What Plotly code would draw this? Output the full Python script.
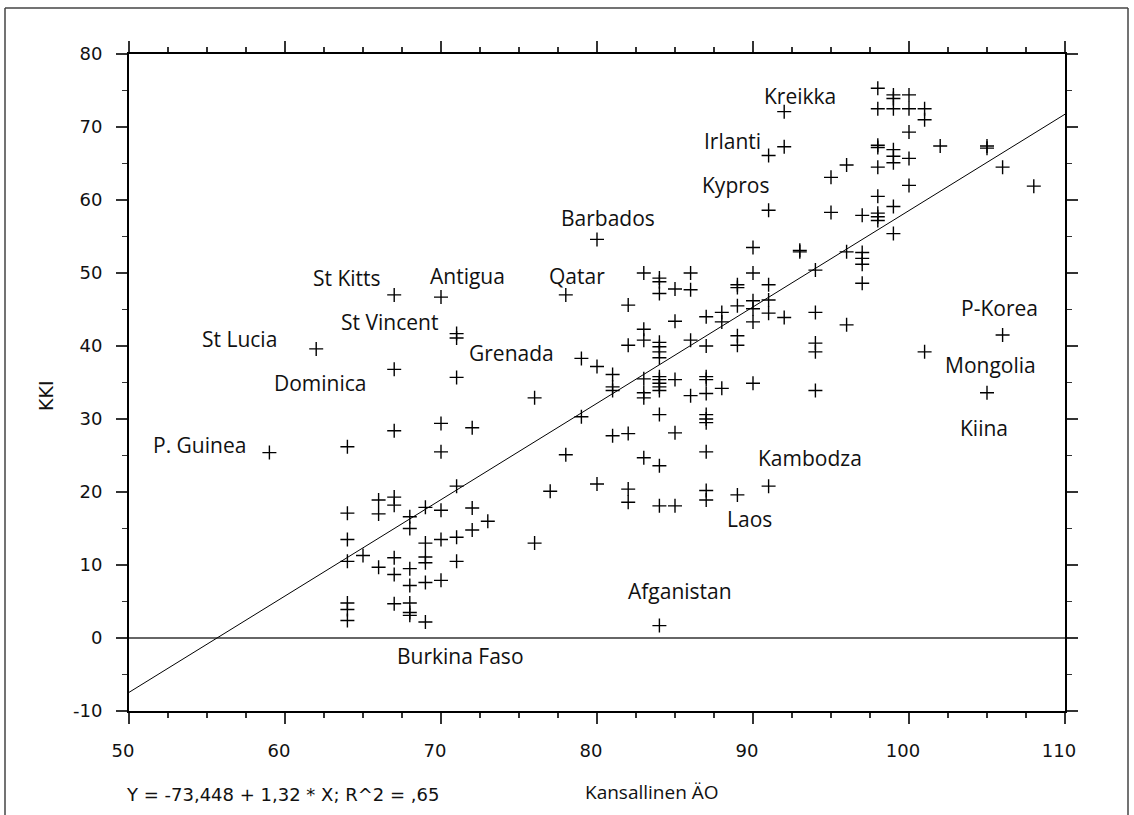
import plotly.graph_objects as go

# ---- data ----
iq_columns = [59, 62, 64, 65, 66, 67, 68, 69, 70, 71, 72, 73, 76, 77, 78, 79, 80,
              81, 82, 83, 84, 85, 86, 87, 88, 89, 90, 91, 92, 93, 94, 95, 96, 97,
              98, 99, 100, 101, 102, 105, 106, 108]
kki_by_column = [
    [25.4],
    [39.6],
    [26.2, 17.1, 13.5, 10.5, 4.8, 3.9, 2.4],
    [11.3],
    [18.9, 17.0, 9.7],
    [47.0, 36.8, 28.4, 19.3, 18.2, 11.0, 8.7, 4.7],
    [16.6, 15.0, 9.5, 7.2, 4.8, 3.5, 3.1],
    [17.9, 13.0, 11.1, 10.3, 7.6, 2.2],
    [46.7, 29.4, 25.5, 17.5, 13.5, 7.9],
    [41.7, 41.1, 35.7, 20.8, 13.8, 10.5],
    [28.8, 17.8, 14.8],
    [16.0],
    [32.9, 13.0],
    [20.1],
    [47.0, 25.1],
    [38.3, 30.3],
    [54.6, 37.2, 21.1],
    [36.1, 34.4, 33.9, 27.7],
    [45.6, 40.1, 28.0, 20.4, 18.6],
    [50.0, 42.3, 40.8, 35.5, 33.6, 32.9, 24.7],
    [49.3, 48.8, 47.2, 40.5, 39.9, 39.2, 38.4, 35.8, 35.4, 34.9, 34.4, 33.9, 30.6, 23.6, 18.1, 1.7],
    [47.8, 43.4, 35.4, 28.1, 18.1],
    [50.0, 47.7, 40.8, 33.2],
    [44.0, 40.0, 35.8, 35.4, 33.5, 30.6, 30.0, 29.5, 25.5, 20.2, 18.9],
    [44.6, 43.3, 34.2],
    [48.4, 48.0, 45.5, 41.4, 40.1, 19.6],
    [53.5, 50.0, 46.2, 45.1, 43.3, 34.9],
    [66.1, 58.6, 48.4, 46.3, 44.5, 20.8],
    [72.1, 67.3, 43.9],
    [53.1, 52.9],
    [50.4, 44.6, 40.4, 39.2, 33.9],
    [63.1, 58.3],
    [64.8, 52.9, 42.9],
    [57.9, 52.8, 52.0, 51.2, 48.6],
    [75.3, 72.5, 67.5, 67.2, 64.5, 60.5, 58.2, 57.7, 57.2],
    [74.4, 73.9, 72.5, 66.9, 66.0, 65.1, 59.1, 55.4],
    [74.4, 72.5, 69.3, 65.7, 62.0],
    [72.5, 71.0, 39.2],
    [67.4],
    [67.4, 67.1, 33.6],
    [64.5, 41.5],
    [61.9],
]

label_names = ["Kreikka", "Irlanti", "Kypros", "Barbados", "St Kitts", "Antigua",
               "Qatar", "St Vincent", "St Lucia", "Grenada", "Dominica", "P. Guinea",
               "P-Korea", "Mongolia", "Kiina", "Kambodza", "Laos", "Afganistan",
               "Burkina Faso"]
label_x = [93.0, 88.7, 88.9, 80.7, 64.0, 71.7, 78.7, 66.7, 57.1, 74.5, 62.3, 54.5,
           105.8, 105.2, 104.8, 93.65, 89.8, 85.35, 71.25]
label_y = [74.2, 68.1, 62.0, 57.5, 49.3, 49.6, 49.6, 43.3, 41.0, 39.1, 35.0, 26.5,
           45.2, 37.4, 28.8, 24.7, 16.3, 6.4, -2.4]

intercept = -73.448
slope = 1.32
line_x = [50, 110]
equation_text = "Y = -73,448 + 1,32 * X; R^2 = ,65"
x_title = "Kansallinen ÄO"
y_title = "KKI"

x_ticks = [50, 60, 70, 80, 90, 100, 110]
x_tick_text = ["50", "60", "70", "80", "90", "100", "110"]
y_ticks = [-10, 0, 10, 20, 30, 40, 50, 60, 70, 80]
y_tick_text = ["-10", "0", "10", "20", "30", "40", "50", "60", "70", "80"]

# ---- build ----
xs, ys = [], []
for xc, col in zip(iq_columns, kki_by_column):
    for v in col:
        xs.append(xc)
        ys.append(v)

LABEL_FONT = "'Open Sans', Lato, sans-serif"
TICK_FONT = "'DejaVu Sans', Verdana, sans-serif"

fig = go.Figure()
fig.add_trace(go.Scatter(
    x=line_x, y=[intercept + slope * v for v in line_x],
    mode="lines", line=dict(color="black", width=1), hoverinfo="skip",
    showlegend=False))
fig.add_trace(go.Scatter(
    x=xs, y=ys, mode="markers",
    marker=dict(symbol="cross-thin", size=10, line=dict(color="black", width=1.4)),
    showlegend=False))

for name, lx, ly in zip(label_names, label_x, label_y):
    fig.add_annotation(x=lx, y=ly, text=name, showarrow=False,
                       font=dict(family=LABEL_FONT, size=21, color="#111"))

L, T, PW, PH = 129, 54, 936, 657

fig.add_annotation(xref="paper", yref="paper", x=(46 - L) / PW, y=(T + PH - 396) / PH,
                   xanchor="center", yanchor="middle",
                   text=y_title, textangle=-90, showarrow=False,
                   font=dict(family=TICK_FONT, size=19, color="#111"))
fig.add_annotation(xref="paper", yref="paper", x=(652 - L) / PW, y=(T + PH - 792) / PH,
                   xanchor="center", yanchor="middle", text=x_title, showarrow=False,
                   font=dict(family=LABEL_FONT, size=19, color="#111"))
fig.add_annotation(xref="paper", yref="paper", x=(124 - L) / PW, y=(T + PH - 794) / PH,
                   xanchor="left", yanchor="middle", text=equation_text, showarrow=False,
                   font=dict(family=TICK_FONT, size=18, color="#111"))

# outer frame (open at the bottom)
for x0, y0, x1, y1 in [(5, 8, 1128, 8), (5, 8, 5, 815), (1128, 8, 1128, 815)]:
    fig.add_shape(type="line", xref="paper", yref="paper",
                  x0=(x0 - L) / PW, x1=(x1 - L) / PW,
                  y0=(T + PH - y0) / PH, y1=(T + PH - y1) / PH,
                  line=dict(color="#444", width=1.5))

axis_common = dict(showgrid=False, showline=True, linecolor="black", linewidth=2,
                   mirror="allticks", ticks="outside", ticklen=11, tickwidth=1.5,
                   tickcolor="#333",
                   tickfont=dict(family=TICK_FONT, size=18, color="#111"))

fig.update_xaxes(range=[50, 110], tickvals=x_ticks, ticktext=x_tick_text,
                 ticklabelstandoff=11, ticklabelshift=-6,
                 minor=dict(dtick=2.5, tick0=50, ticks="outside", ticklen=5,
                            tickcolor="#333", tickwidth=1.5),
                 zeroline=False, **axis_common)
fig.update_yaxes(range=[-10, 80], tickvals=y_ticks, ticktext=y_tick_text,
                 ticklabelstandoff=10,
                 minor=dict(dtick=5, tick0=0, ticks="outside", ticklen=5,
                            tickcolor="#333", tickwidth=1.5),
                 zeroline=True, zerolinecolor="#666", zerolinewidth=1.5,
                 **axis_common)

fig.update_layout(
    width=1134, height=815,
    margin=dict(l=L, r=1134 - L - PW, t=T, b=815 - T - PH),
    paper_bgcolor="white", plot_bgcolor="white",
    showlegend=False, hovermode=False,
)

fig.write_html("out.html", config={"displayModeBar": False, "staticPlot": True},
               post_script="document.body.style.margin='0';document.body.style.overflow='hidden';")
